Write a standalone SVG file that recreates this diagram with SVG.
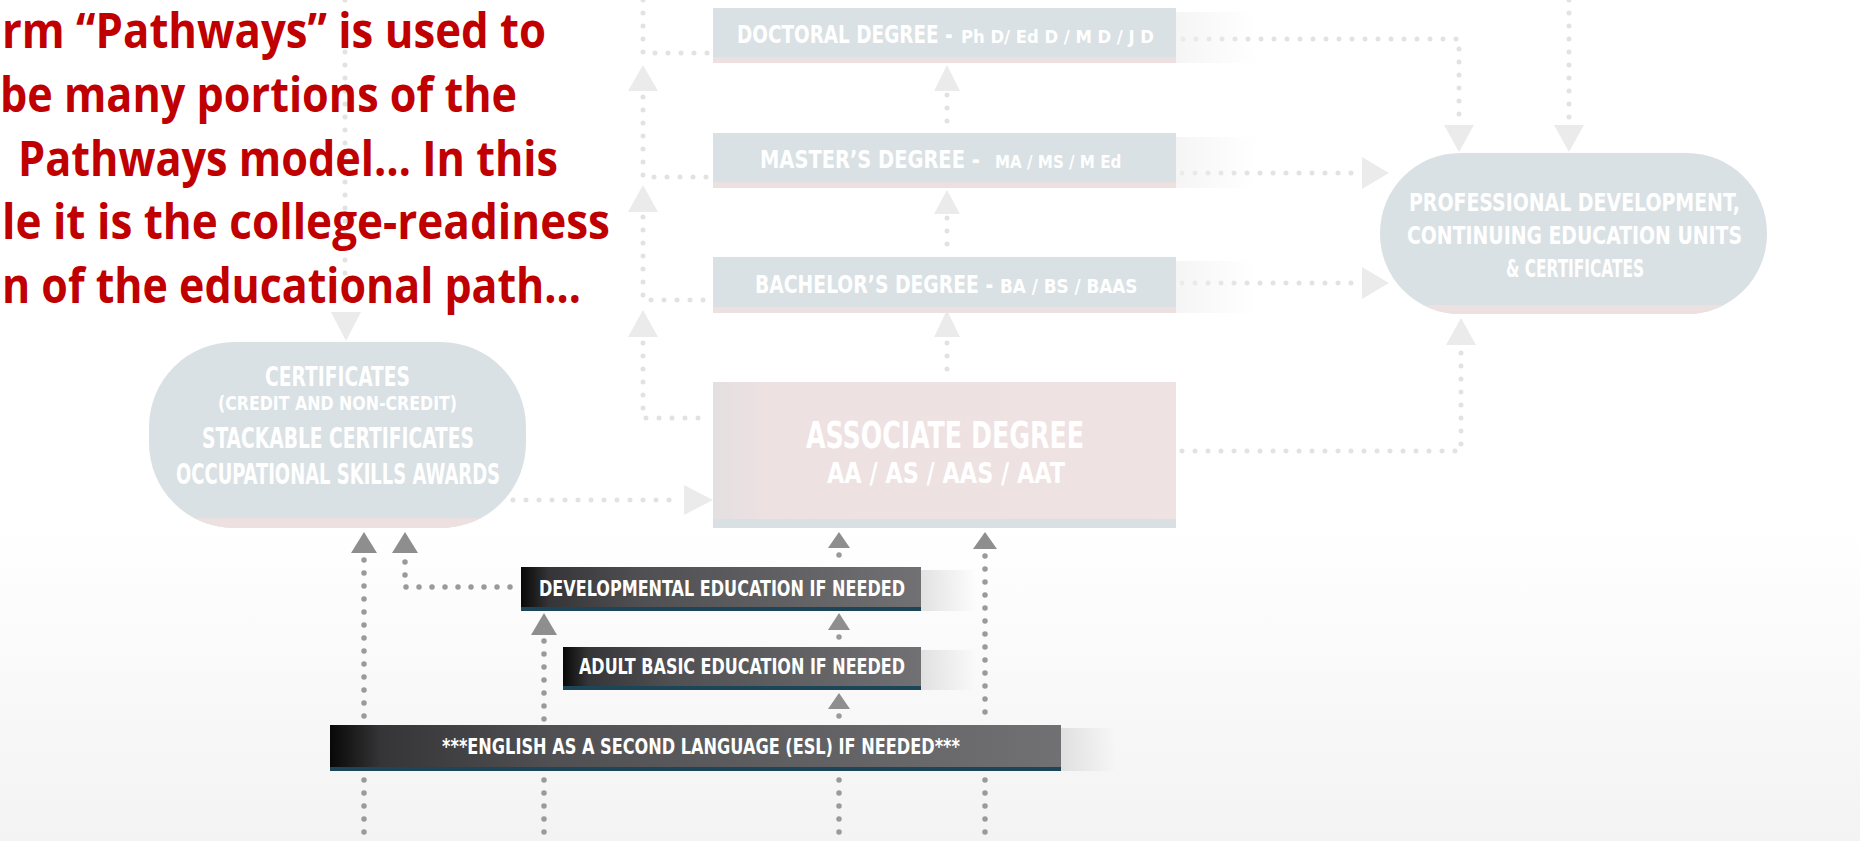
<svg xmlns="http://www.w3.org/2000/svg" width="1860" height="841" viewBox="0 0 1860 841">
<style>
.red{font-family:"Open Sans","Liberation Sans",Arial,sans-serif;font-weight:bold;font-size:48px;fill:#c00000}
.c{font-family:"Liberation Sans Narrow","DejaVu Sans Condensed","Roboto",sans-serif;font-weight:bold;fill:#ffffff}
.dl{fill:none;stroke:#e2e2e2;stroke-width:5;stroke-linecap:round;stroke-dasharray:0 13}
.dd{fill:none;stroke:#9a9a9a;stroke-width:5.5;stroke-linecap:round;stroke-dasharray:0 13}
.al{fill:#ebebeb}
.ad{fill:#8e8e8e}
.box{fill:#dae1e4}
.pink{fill:#ede0e1}
</style>
<defs>
<linearGradient id="bg" x1="0" y1="0" x2="0" y2="1">
<stop offset="0" stop-color="#ffffff"/>
<stop offset="1" stop-color="#f3f3f3"/>
</linearGradient>
<linearGradient id="bar" x1="0" y1="0" x2="1" y2="0">
<stop offset="0" stop-color="#080808"/>
<stop offset="0.07" stop-color="#353537"/>
<stop offset="0.3" stop-color="#505052"/>
<stop offset="1" stop-color="#717173"/>
</linearGradient>
<linearGradient id="shR" x1="0" y1="0" x2="1" y2="0">
<stop offset="0" stop-color="#d6d6d6" stop-opacity="0.7"/>
<stop offset="1" stop-color="#d6d6d6" stop-opacity="0"/>
</linearGradient>
<linearGradient id="shL" x1="0" y1="0" x2="1" y2="0">
<stop offset="0" stop-color="#f1f1f1" stop-opacity="0.7"/>
<stop offset="1" stop-color="#f1f1f1" stop-opacity="0"/>
</linearGradient>
<linearGradient id="assoc" x1="0" y1="0" x2="1" y2="0">
<stop offset="0" stop-color="#e4dfe0"/>
<stop offset="0.12" stop-color="#eee1e2"/>
<stop offset="1" stop-color="#efe2e3"/>
</linearGradient>
<clipPath id="cpCert"><rect x="149" y="342" width="377" height="186" rx="85"/></clipPath>
<clipPath id="cpProf"><rect x="1380" y="153" width="387" height="161" rx="80"/></clipPath>
</defs>

<rect x="0" y="0" width="1860" height="841" fill="#ffffff"/>
<rect x="0" y="528" width="1860" height="313" fill="url(#bg)"/>

<g id="connectors">
<path class="dl" d="M345,0 V308"/>
<path class="dl" d="M643,0 V53 H708"/>
<path class="dl" d="M643,97 V177 H708"/>
<path class="dl" d="M643,217 V300 H708"/>
<path class="dl" d="M643,343 V418 H708"/>
<path class="dl" d="M947,95 V128"/>
<path class="dl" d="M947,218 V252"/>
<path class="dl" d="M947,343 V378"/>
<path class="dl" d="M1183,39 H1459 V118"/>
<path class="dl" d="M1569,0 V118"/>
<path class="dl" d="M1182,173 H1358"/>
<path class="dl" d="M1182,283 H1358"/>
<path class="dl" d="M1182,451 H1461 V350"/>
<path class="dl" d="M513,500 H678"/>
<polygon class="al" points="628,91 658,91 643,65"/>
<polygon class="al" points="628,212 658,212 643,185"/>
<polygon class="al" points="628,337 658,337 643,310"/>
<polygon class="al" points="934,91 960,91 947,65"/>
<polygon class="al" points="934,214 960,214 947,190"/>
<polygon class="al" points="934,337 960,337 947,310"/>
<polygon class="al" points="1444,125 1474,125 1459,152"/>
<polygon class="al" points="1554,125 1584,125 1569,152"/>
<polygon class="al" points="1362,157 1362,189 1389,173"/>
<polygon class="al" points="1362,267 1362,299 1389,283"/>
<polygon class="al" points="1446,345 1476,345 1461,318"/>
<polygon class="al" points="331,312 361,312 346,341"/>
<polygon class="al" points="684,485 684,515 713,500"/>

<path class="dd" d="M364,560 V720"/>
<path class="dd" d="M364,780 V841"/>
<path class="dd" d="M405,562 V587 H513"/>
<path class="dd" d="M544,641 V720"/>
<path class="dd" d="M544,780 V841"/>
<path class="dd" d="M839,555 V565"/>
<path class="dd" d="M839,637 V644"/>
<path class="dd" d="M839,716 V722"/>
<path class="dd" d="M839,780 V841"/>
<path class="dd" d="M985,556 V720"/>
<path class="dd" d="M985,780 V841"/>
<polygon class="ad" points="351,553 377,553 364,532"/>
<polygon class="ad" points="392,553 418,553 405,532"/>
<polygon class="ad" points="828,548 850,548 839,532"/>
<polygon class="ad" points="973,549 997,549 985,532"/>
<polygon class="ad" points="531,635 557,635 544,613"/>
<polygon class="ad" points="828,630 850,630 839,613"/>
<polygon class="ad" points="828,709 850,709 839,693"/>
</g>

<g id="intro-text">
<text class="red" x="546" y="48" text-anchor="end" textLength="544" lengthAdjust="spacingAndGlyphs">rm “Pathways” is used to</text>
<text class="red" x="517" y="112" text-anchor="end" textLength="517" lengthAdjust="spacingAndGlyphs">be many portions of the</text>
<text class="red" x="558" y="176" text-anchor="end" textLength="540" lengthAdjust="spacingAndGlyphs">Pathways model… In this</text>
<text class="red" x="610" y="239" text-anchor="end" textLength="608" lengthAdjust="spacingAndGlyphs">le it is the college-readiness</text>
<text class="red" x="581" y="303" text-anchor="end" textLength="579" lengthAdjust="spacingAndGlyphs">n of the educational path…</text>
</g>

<g id="doctoral">
<rect x="1176" y="12" width="80" height="51" fill="url(#shL)"/>
<rect class="box" x="713" y="8" width="463" height="55"/>
<rect class="pink" x="713" y="57" width="463" height="6"/>
<text class="c" transform="translate(737,43) scale(0.82,1)" font-size="25" textLength="263" lengthAdjust="spacingAndGlyphs">DOCTORAL DEGREE -</text>
<text class="c" x="961" y="43" font-size="18" textLength="193" lengthAdjust="spacingAndGlyphs">Ph D/ Ed D / M D / J D</text>
</g>

<g id="masters">
<rect x="1176" y="137" width="80" height="51" fill="url(#shL)"/>
<rect class="box" x="713" y="133" width="463" height="55"/>
<rect class="pink" x="713" y="182" width="463" height="6"/>
<text class="c" transform="translate(760,168) scale(0.82,1)" font-size="25" textLength="268" lengthAdjust="spacingAndGlyphs">MASTER’S DEGREE -</text>
<text class="c" transform="translate(995,168) scale(0.89,1)" font-size="18" textLength="142" lengthAdjust="spacingAndGlyphs">MA / MS / M Ed</text>
</g>

<g id="bachelors">
<rect x="1176" y="261" width="80" height="52" fill="url(#shL)"/>
<rect class="box" x="713" y="257" width="463" height="56"/>
<rect class="pink" x="713" y="307" width="463" height="6"/>
<text class="c" transform="translate(755,293) scale(0.83,1)" font-size="25" textLength="287" lengthAdjust="spacingAndGlyphs">BACHELOR’S DEGREE -</text>
<text class="c" transform="translate(1000,293) scale(0.91,1)" font-size="20" textLength="151" lengthAdjust="spacingAndGlyphs">BA / BS / BAAS</text>
</g>

<g id="associate">
<rect x="713" y="382" width="463" height="146" fill="url(#assoc)"/>
<rect x="713" y="519" width="463" height="9" fill="#d8e0e3"/>
<text class="c" x="806" y="448" font-size="37" textLength="278" lengthAdjust="spacingAndGlyphs">ASSOCIATE DEGREE</text>
<text class="c" x="827" y="483" font-size="28" textLength="238" lengthAdjust="spacingAndGlyphs">AA / AS / AAS / AAT</text>
</g>

<g id="professional">
<rect class="box" x="1380" y="153" width="387" height="161" rx="80"/>
<rect class="pink" x="1380" y="305" width="387" height="9" clip-path="url(#cpProf)"/>
<text class="c" x="1409" y="211" font-size="25" textLength="331" lengthAdjust="spacingAndGlyphs">PROFESSIONAL DEVELOPMENT,</text>
<text class="c" x="1407" y="244" font-size="25" textLength="335" lengthAdjust="spacingAndGlyphs">CONTINUING EDUCATION UNITS</text>
<text class="c" x="1506" y="277" font-size="25" textLength="138" lengthAdjust="spacingAndGlyphs">&amp; CERTIFICATES</text>
</g>

<g id="certificates">
<rect class="box" x="149" y="342" width="377" height="186" rx="85"/>
<rect class="pink" x="149" y="518" width="377" height="10" clip-path="url(#cpCert)"/>
<text class="c" x="265" y="386" font-size="27" textLength="145" lengthAdjust="spacingAndGlyphs">CERTIFICATES</text>
<text class="c" x="218" y="410" font-size="20" textLength="239" lengthAdjust="spacingAndGlyphs">(CREDIT AND NON-CREDIT)</text>
<text class="c" x="202" y="448" font-size="28" textLength="272" lengthAdjust="spacingAndGlyphs">STACKABLE CERTIFICATES</text>
<text class="c" x="176" y="484" font-size="28" textLength="324" lengthAdjust="spacingAndGlyphs">OCCUPATIONAL SKILLS AWARDS</text>
</g>

<g id="developmental">
<rect x="921" y="570" width="55" height="41" fill="url(#shR)"/>
<rect x="521" y="567" width="400" height="44" fill="url(#bar)"/>
<rect x="521" y="607" width="400" height="4" fill="#1c4557"/>
<text class="c" x="539" y="596" font-size="22" textLength="366" lengthAdjust="spacingAndGlyphs">DEVELOPMENTAL EDUCATION IF NEEDED</text>
</g>

<g id="adult-basic">
<rect x="921" y="650" width="55" height="40" fill="url(#shR)"/>
<rect x="563" y="647" width="358" height="43" fill="url(#bar)"/>
<rect x="563" y="686" width="358" height="4" fill="#1c4557"/>
<text class="c" x="579" y="674" font-size="22" textLength="326" lengthAdjust="spacingAndGlyphs">ADULT BASIC EDUCATION IF NEEDED</text>
</g>

<g id="esl">
<rect x="1061" y="728" width="55" height="43" fill="url(#shR)"/>
<rect x="330" y="725" width="731" height="46" fill="url(#bar)"/>
<rect x="330" y="767" width="731" height="4" fill="#1c4557"/>
<text class="c" x="442" y="754" font-size="22" textLength="518" lengthAdjust="spacingAndGlyphs">***ENGLISH AS A SECOND LANGUAGE (ESL) IF NEEDED***</text>
</g>
</svg>
